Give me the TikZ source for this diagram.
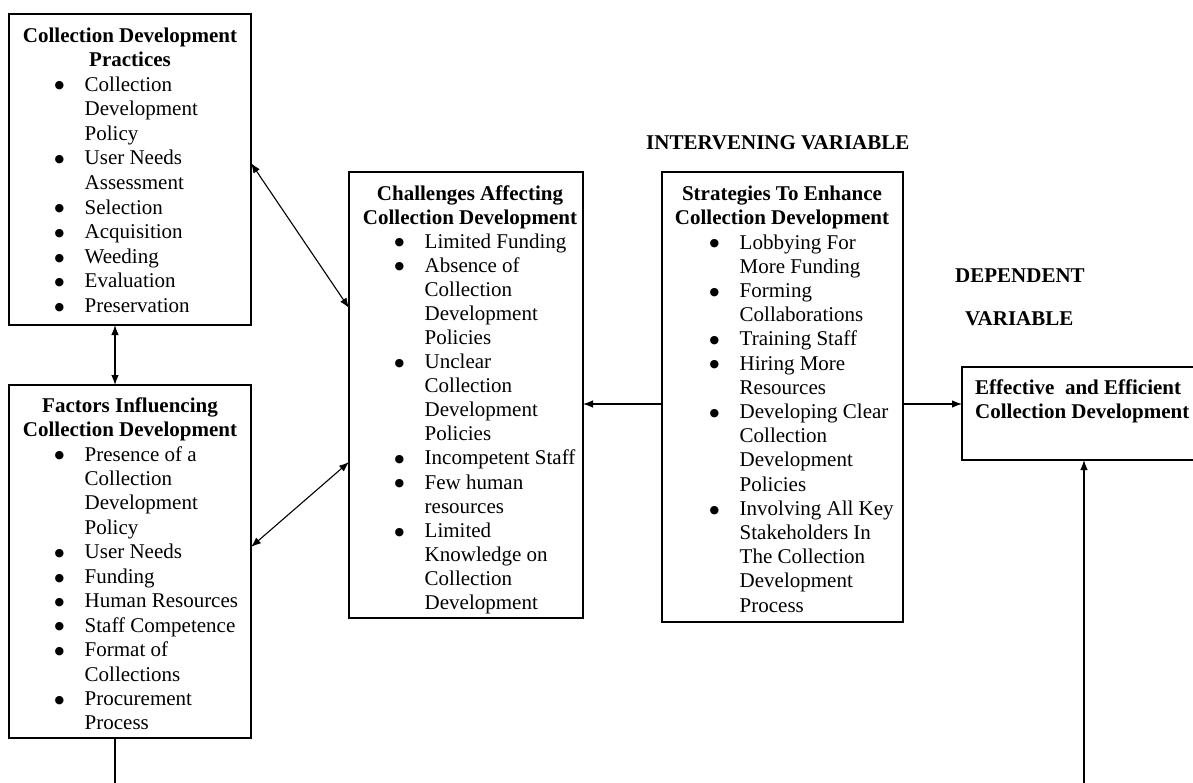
\documentclass[tikz,border=0pt]{standalone}
\usepackage{fontspec}
\setmainfont{Liberation Serif}
\newfontfamily\symfont{DejaVu Sans}
\usetikzlibrary{arrows.meta,calc}
\newcommand{\hdtab}[1]{\begin{tabular}[t]{@{}c@{}}#1\end{tabular}}
\newcommand{\lftab}[1]{\begin{tabular}[t]{@{}l@{}}#1\end{tabular}}
\newcommand{\bltab}[1]{\begin{tabular}[t]{@{}p{30pt}@{}l@{}}#1\end{tabular}}
\newcommand{\bu}{\hspace*{0pt}\raisebox{2.2pt}{\symfont\fontsize{11}{11}\selectfont ●}}
\begin{document}
\begin{tikzpicture}[x=1pt,y=-1pt,
  box/.style={draw=black, line width=1.3pt, rectangle, inner sep=0pt, outer sep=0pt, anchor=north west},
  hd/.style={inner sep=0pt, anchor=base},
  lst/.style={inner sep=0pt, anchor=base west},
  lbl/.style={inner sep=0pt, anchor=base west, font=\fontsize{21}{24.5}\selectfont\bfseries},
  conn/.style={line width=1.1pt, -{Latex[length=10pt,width=7.5pt]}},
  biconn/.style={line width=1.1pt, {Latex[length=10pt,width=7.5pt]}-{Latex[length=10pt,width=7.5pt]}},
  plain/.style={line width=1.1pt}]
\useasboundingbox (0,0) rectangle (1193,782);
\clip (0,0) rectangle (1193,782);
\fill[white] (0,0) rectangle (1193,782);

% boxes
\node[box, minimum width=242pt, minimum height=311pt] (b1) at (9,14) {};
\node[box, minimum width=242pt, minimum height=353pt] (b2) at (9,385) {};
\node[box, minimum width=234pt, minimum height=446pt] (b3) at (349,172) {};
\node[box, minimum width=241pt, minimum height=450pt] (b4) at (662,172) {};
\node[box, minimum width=244pt, minimum height=93pt] (b5) at (962,367) {};

% box 1
\node[hd, font=\fontsize{21}{24.6}\selectfont\bfseries] (h1) at (130,42) {\hdtab{Collection Development\\Practices}};
\node[lst, font=\fontsize{21}{24.6}\selectfont] (l1) at (54.5,91) {\bltab{\bu & Collection\\ & Development\\ & Policy\\ \bu & User Needs\\ & Assessment\\ \bu & Selection\\ \bu & Acquisition\\ \bu & Weeding\\ \bu & Evaluation\\ \bu & Preservation}};

% box 2
\node[hd, font=\fontsize{21}{24.45}\selectfont\bfseries] (h2) at (130,412) {\hdtab{Factors Influencing\\Collection Development}};
\node[lst, font=\fontsize{21}{24.45}\selectfont] (l2) at (54.5,461) {\bltab{\bu & Presence of a\\ & Collection\\ & Development\\ & Policy\\ \bu & User Needs\\ \bu & Funding\\ \bu & Human Resources\\ \bu & Staff Competence\\ \bu & Format of\\ & Collections\\ \bu & Procurement\\ & Process}};

% box 3
\node[hd, font=\fontsize{21}{24.1}\selectfont\bfseries] (h3) at (470,200) {\hdtab{Challenges Affecting\\Collection Development}};
\node[lst, font=\fontsize{21}{24.1}\selectfont] (l3) at (394.5,248) {\bltab{\bu & Limited Funding\\ \bu & Absence of\\ & Collection\\ & Development\\ & Policies\\ \bu & Unclear\\ & Collection\\ & Development\\ & Policies\\ \bu & Incompetent Staff\\ \bu & Few human\\ & resources\\ \bu & Limited\\ & Knowledge on\\ & Collection\\ & Development}};

% box 4
\node[hd, font=\fontsize{21}{24.2}\selectfont\bfseries] (h4) at (782,200) {\hdtab{Strategies To Enhance\\Collection Development}};
\node[lst, font=\fontsize{21}{24.2}\selectfont] (l4) at (709.5,249) {\bltab{\bu & Lobbying For\\ & More Funding\\ \bu & Forming\\ & Collaborations\\ \bu & Training Staff\\ \bu & Hiring More\\ & Resources\\ \bu & Developing Clear\\ & Collection\\ & Development\\ & Policies\\ \bu & Involving All Key\\ & Stakeholders In\\ & The Collection\\ & Development\\ & Process}};

% box 5
\node[lst, font=\fontsize{21}{24.5}\selectfont\bfseries] (h5) at (975,394) {\lftab{Effective\ \ and Efficient\\Collection Development}};

% labels
\node[lbl] (iv) at (646,149) {INTERVENING VARIABLE};
\node[lbl] (dep) at (955,282) {DEPENDENT};
\node[lbl] (var) at (965,325) {VARIABLE};

% connectors
\draw[biconn] ([yshift=6.5pt]b1.east) -- ([yshift=87pt]b3.west);
\draw[biconn] ([yshift=14.5pt]b2.east) -- ([yshift=-67pt]b3.west);
\draw[biconn] ([xshift=-15pt]b1.south) -- ([xshift=-15pt]b2.north);
\coordinate (bl) at (115,800);
\draw[plain] ([xshift=-15pt]b2.south) -- (bl);
\coordinate (p4w) at ([yshift=-7pt]b4.west);
\coordinate (p4e) at ([yshift=-7pt]b4.east);
\draw[conn] (p4w) -- (p4w -| b3.east);
\draw[conn] (p4e) -- (p4e -| b5.west);
\coordinate (br) at (1084,800);
\draw[conn] (br) -- (b5.south);
\end{tikzpicture}
\end{document}
